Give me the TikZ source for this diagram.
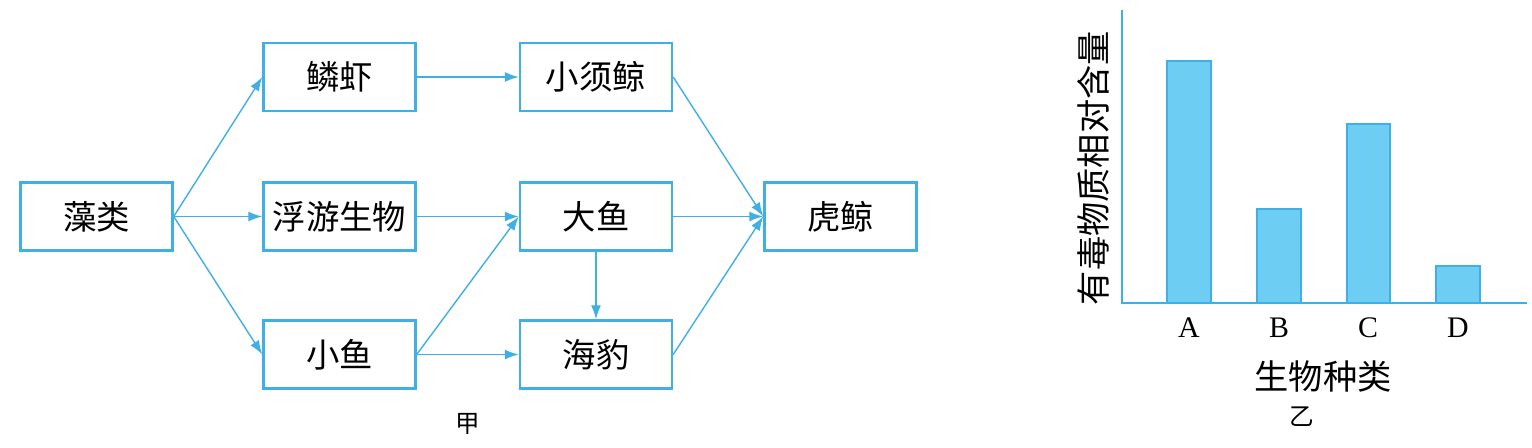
\documentclass[tikz,border=0pt]{standalone}
\usepackage{fontspec}
\setmainfont{Liberation Serif}
\newfontfamily\cjk{Noto Sans CJK SC}
\usetikzlibrary{arrows.meta}
\definecolor{lineblue}{RGB}{64,176,228}
\definecolor{barblue}{RGB}{110,205,243}
\tikzset{
  box/.style={draw=lineblue,line width=1.4pt,rectangle,minimum width=3.04cm,minimum height=1.36cm,
    inner sep=0pt,font=\cjk\fontsize{19}{19}\selectfont},
  feed/.style={draw=lineblue,line width=0.8pt,-{Latex[length=0.28cm,width=0.2cm]}},
  bar/.style={draw=lineblue,line width=0.8pt,fill=barblue}
}
\begin{document}
\begin{tikzpicture}[x=0.02cm,y=-0.02cm]
        \useasboundingbox (0,0) rectangle (1532,447);

        \begin{scope}[every node/.style={box}]
          \node (1)  at (96.5,216.5)  {藻类};
          \node (2)  at (339.5,77)    {鳞虾};
          \node (3)  at (339.5,216.5) {浮游生物};
          \node (4)  at (339.5,354.5) {小鱼};
          \node (5)  at (596,77)      {小须鲸};
          \node (6)  at (596,216.5)   {大鱼};
          \node (7)  at (596,354.5)   {海豹};
          \node (8)  at (840.5,216.5) {虎鲸};
        \end{scope}

        \node[font=\cjk\fontsize{14}{14}\selectfont] (9) at (468,424) {甲};

        \begin{scope}[every edge/.style={feed}]
          \path (1.east)  edge (2.west);
          \path (1.east)  edge (3.west);
          \path (1.east)  edge (4.west);
          \path (2.east)  edge (5.west);
          \path (3.east)  edge (6.west);
          \path (4.east)  edge (6.west);
          \path (4.east)  edge (7.west);
          \path (6.south) edge (7.north);
          \path (5.east)  edge (8.west);
          \path (6.east)  edge (8.west);
          \path (7.east)  edge (8.west);
        \end{scope}

        % bar chart
        \coordinate (top) at (1122,10);
        \coordinate (o) at (1122,303);
        \coordinate (end) at (1527,303);
        \draw[lineblue,line width=0.9pt] (top) -- (o) -- (end);

        \draw[bar] (1167,303) rectangle (1211,61);
        \draw[bar] (1257,303) rectangle (1301,209);
        \draw[bar] (1347,303) rectangle (1390,124);
        \draw[bar] (1436,303) rectangle (1480,266);

        \begin{scope}[every node/.style={font=\fontsize{17}{17}\selectfont}]
          \node (A) at (1189,328) {A};
          \node (B) at (1279,328) {B};
          \node (C) at (1368,328) {C};
          \node (D) at (1458,328) {D};
        \end{scope}

        \node[rotate=90,font=\cjk\fontsize{19.5}{19.5}\selectfont] (ylab) at (1093,168) {有毒物质相对含量};
        \node[font=\cjk\fontsize{19.5}{19.5}\selectfont] (xlab) at (1323,376) {生物种类};
        \node[font=\cjk\fontsize{14}{14}\selectfont] (10) at (1302,417) {乙};

      \end{tikzpicture}
\end{document}
